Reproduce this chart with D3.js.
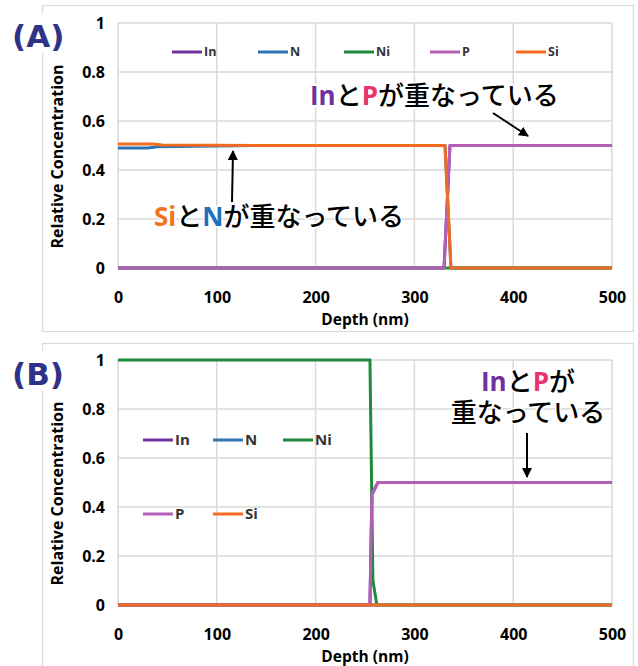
<!DOCTYPE html>
<html>
<head>
<meta charset="utf-8">
<script src="https://cdn.jsdelivr.net/npm/d3@7"></script>
<style>
  body { margin: 0; background: #fff; }
  svg { display: block; }
</style>
</head>
<body>
<div id="chart"></div>
<script>
// Series names, colours and axis ticks
const elements = ['In', 'N', 'Ni', 'P', 'Si'];
const colors = ['#7030a0', '#2e75b6', '#1f8a3c', '#b45fb6', '#f26b21'];
const xTicks = [0, 100, 200, 300, 400, 500];
const yTicks = [0, 0.2, 0.4, 0.6, 0.8, 1];

// Panel A profiles: [depth nm, relative concentration]
const profileA_In = [[0, 0], [330, 0], [336, 0.5], [500, 0.5]];
const profileA_N = [[0, 0.49], [30, 0.49], [40, 0.495], [140, 0.5], [331, 0.5], [337, 0], [500, 0]];
const profileA_Ni = [[0, 0], [500, 0]];
const profileA_P = [[0, 0], [330, 0], [336, 0.5], [500, 0.5]];
const profileA_Si = [[0, 0.506], [35, 0.506], [45, 0.502], [140, 0.5], [331, 0.5], [337, 0], [500, 0]];

// Panel B profiles
const profileB_In = [[0, 0], [255, 0], [257, 0.45], [263, 0.5], [500, 0.5]];
const profileB_N = [[0, 0], [500, 0]];
const profileB_Ni = [[0, 1], [255, 1], [258, 0.1], [262, 0], [500, 0]];
const profileB_P = [[0, 0], [255, 0], [257, 0.45], [263, 0.5], [500, 0.5]];
const profileB_Si = [[0, 0], [500, 0]];

const W = 638, H = 666;
const latin = "'Open Sans', 'Noto Sans', sans-serif";
const cjk = "'Noto Sans CJK JP', 'Noto Sans', sans-serif";

const svg = d3.select('#chart').append('svg')
  .attr('width', W).attr('height', H)
  .attr('viewBox', `0 0 ${W} ${H}`);

svg.append('rect').attr('width', W).attr('height', H).attr('fill', '#fff');

const defs = svg.append('defs');
defs.append('marker')
  .attr('id', 'arrow')
  .attr('viewBox', '0 0 10 10')
  .attr('refX', 9).attr('refY', 5)
  .attr('markerWidth', 5).attr('markerHeight', 5)
  .attr('markerUnits', 'strokeWidth')
  .attr('orient', 'auto')
  .append('path').attr('d', 'M0,0 L10,5 L0,10 Z').attr('fill', '#000');

function drawPanel(cfg) {
  const g = svg.append('g');

  // outer frame
  g.append('rect')
    .attr('x', 42.5).attr('y', cfg.boxTop + 0.5)
    .attr('width', 591).attr('height', cfg.boxHeight)
    .attr('fill', 'none').attr('stroke', '#d9d9d9').attr('stroke-width', 1.2);

  const x = d3.scaleLinear().domain([0, 500]).range([118, 612]);
  const y = d3.scaleLinear().domain([0, 1]).range([cfg.bottom, cfg.top]);

  // gridlines
  g.append('g').selectAll('line').data(yTicks).join('line')
    .attr('x1', x(0)).attr('x2', x(500))
    .attr('y1', d => y(d)).attr('y2', d => y(d))
    .attr('stroke', '#d9d9d9').attr('stroke-width', 1.5);
  g.append('g').selectAll('line').data(xTicks).join('line')
    .attr('x1', d => x(d)).attr('x2', d => x(d))
    .attr('y1', y(0)).attr('y2', y(1))
    .attr('stroke', '#d9d9d9').attr('stroke-width', 1.5);

  // axes (labels only, no domain lines)
  const xAxis = g.append('g')
    .attr('transform', `translate(0,${cfg.bottom + 21})`)
    .call(d3.axisBottom(x).tickValues(xTicks).tickSize(0).tickFormat(d3.format('d')));
  const yAxis = g.append('g')
    .attr('transform', 'translate(108,0)')
    .call(d3.axisLeft(y).tickValues(yTicks).tickSize(0).tickFormat(d => d3.format('~g')(d)));
  [xAxis, yAxis].forEach(a => {
    a.select('.domain').remove();
    a.selectAll('text')
      .attr('font-family', latin).attr('font-size', 16)
      .attr('font-weight', 700).attr('fill', '#000');
  });

  g.append('text')
    .attr('x', 365).attr('y', cfg.bottom + 57)
    .attr('text-anchor', 'middle')
    .attr('font-family', latin).attr('font-size', 15.5).attr('font-weight', 700)
    .text('Depth (nm)');

  g.append('text')
    .attr('transform', `translate(63,${(cfg.top + cfg.bottom) / 2 + 11}) rotate(-90)`)
    .attr('text-anchor', 'middle')
    .attr('font-family', latin).attr('font-size', 16).attr('font-weight', 700)
    .text('Relative Concentration');

  // profile lines
  const line = d3.line().x(d => x(d[0])).y(d => y(d[1]));
  g.append('g').selectAll('path').data(cfg.profiles).join('path')
    .attr('d', line)
    .attr('fill', 'none')
    .attr('stroke', (d, i) => colors[i])
    .attr('stroke-width', 3)
    .attr('stroke-linejoin', 'round');

  // legend
  const lg = g.append('g').selectAll('g').data(elements).join('g')
    .attr('transform', (d, i) => `translate(${cfg.legendPos(i)[0]},${cfg.legendPos(i)[1]})`);
  lg.append('line')
    .attr('x1', 0).attr('x2', 30)
    .attr('stroke', (d, i) => colors[i]).attr('stroke-width', 3);
  lg.append('text')
    .attr('x', 32).attr('dy', '0.35em')
    .attr('font-family', latin).attr('font-size', cfg.legendFont).attr('font-weight', 700)
    .attr('fill', '#333')
    .text(d => d);

  // panel label
  g.append('rect')
    .attr('x', 38).attr('y', cfg.boxTop + 8).attr('width', 10).attr('height', 40)
    .attr('fill', '#fff');
  g.append('text')
    .attr('x', 12).attr('y', cfg.boxTop + 42)
    .attr('font-family', "'DejaVu Sans', sans-serif").attr('font-size', 31).attr('font-weight', 700)
    .attr('fill', '#2e3388')
    .text(cfg.label);

  return g;
}

// lines: array of rows, each row an array of {text, color}
function note(g, xPos, yPos, lines, anchor, lineGap) {
  const t = g.append('text')
    .attr('x', xPos).attr('y', yPos)
    .attr('text-anchor', anchor || 'start')
    .attr('font-size', 26)
    .attr('stroke', '#fff').attr('stroke-width', 3)
    .attr('stroke-linejoin', 'round')
    .attr('paint-order', 'stroke');
  lines.forEach((parts, row) => {
    parts.forEach((p, k) => {
      const s = t.append('tspan')
        .attr('fill', p.color || '#000')
        .attr('font-family', p.color ? latin : cjk)
        .attr('font-weight', p.color ? 700 : 500)
        .text(p.text);
      if (row > 0 && k === 0) s.attr('x', xPos).attr('dy', lineGap);
    });
  });
}

function arrow(g, x1, y1, x2, y2) {
  g.append('line')
    .attr('x1', x1).attr('y1', y1).attr('x2', x2).attr('y2', y2)
    .attr('stroke', '#000').attr('stroke-width', 2)
    .attr('marker-end', 'url(#arrow)');
}

// Panel A
const gA = drawPanel({
  label: '(A)', boxTop: 5, boxHeight: 326, top: 23, bottom: 268,
  profiles: [profileA_In, profileA_N, profileA_Ni, profileA_P, profileA_Si],
  legendPos: i => [172 + i * 86, 52], legendFont: 12.5
});
note(gA, 310, 105, [[
  { text: 'In', color: '#7030a0' }, { text: 'と' },
  { text: 'P', color: '#e8336e' }, { text: 'が重なっている' }
]]);
arrow(gA, 493, 113, 528, 136);
note(gA, 154, 226, [[
  { text: 'Si', color: '#f47423' }, { text: 'と' },
  { text: 'N', color: '#1f6fc0' }, { text: 'が重なっている' }
]]);
arrow(gA, 232, 202, 233, 151);

// Panel B
const gB = drawPanel({
  label: '(B)', boxTop: 343, boxHeight: 330, top: 360, bottom: 605,
  profiles: [profileB_In, profileB_N, profileB_Ni, profileB_P, profileB_Si],
  legendPos: i => [143 + (i % 3) * 70, 440 + Math.floor(i / 3) * 74], legendFont: 15
});
note(gB, 528, 391, [
  [{ text: 'In', color: '#7030a0' }, { text: 'と' }, { text: 'P', color: '#e8336e' }, { text: 'が' }],
  [{ text: '重なっている' }]
], 'middle', 31);
arrow(gB, 527, 433, 527, 477);
</script>
</body>
</html>
